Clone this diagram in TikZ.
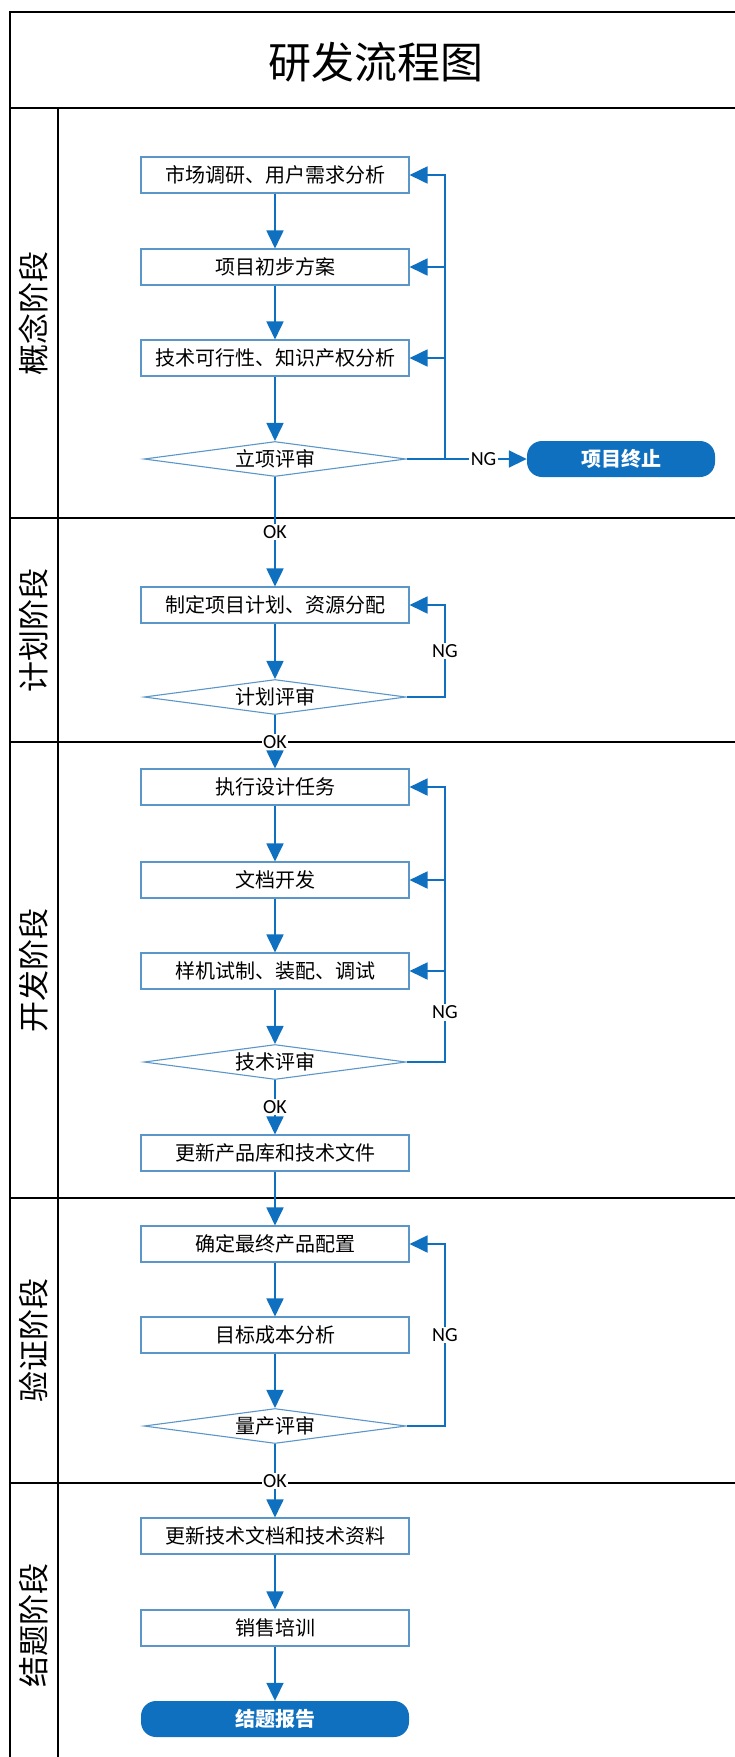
\documentclass[tikz,border=0pt]{standalone}
\usepackage{fontspec}
\setmainfont{Carlito}
\newfontfamily\cjk{Noto Sans CJK SC}
\usetikzlibrary{shapes.geometric,arrows.meta,scopes}
\definecolor{flowblue}{RGB}{16,112,192}
\definecolor{boxline}{RGB}{90,150,200}
\tikzset{
  stage/.style={draw=boxline,line width=1.1pt,minimum width=268pt,minimum height=36pt,
                inner sep=0pt,font=\cjk\fontsize{20}{24}\selectfont},
  review/.style={diamond,aspect=7.5,draw=boxline,line width=1.1pt,minimum width=262pt,
                 minimum height=35pt,inner sep=0pt,font=\cjk\fontsize{20}{24}\selectfont},
  halt/.style={fill=flowblue,rounded corners=15pt,minimum height=36pt,inner sep=0pt,
               text=white,font=\cjk\bfseries\fontsize{20}{24}\selectfont},
  lane/.style={rotate=90,font=\cjk\fontsize{31}{34}\selectfont},
  tag/.style={fill=white,text=black,inner sep=1.5pt,font=\fontsize{20}{22}\selectfont},
  flow/.style={color=flowblue,line width=1.8pt,-{Triangle[length=18pt,width=17pt]}},
  laneline/.style={line width=1.6pt}
}
\begin{document}
\begin{tikzpicture}[x=1pt,y=-1pt]
\useasboundingbox (0,0) rectangle (734,1757);

{[laneline]
 \draw (10,12) rectangle (742,1767);
 \draw (10,108) -- (742,108);
 \draw (58,108) -- (58,1767);
 \foreach \y in {518,742,1198,1483}
   \draw (10,\y) -- (742,\y);
}

\path node (title) at (376,62) {\cjk\fontsize{43}{48}\selectfont 研发流程图}
      node[lane] (l1) at (34,313)  {概念阶段}
      node[lane] (l2) at (34,630)  {计划阶段}
      node[lane] (l3) at (34,970)  {开发阶段}
      node[lane] (l4) at (34,1340) {验证阶段}
      node[lane] (l5) at (34,1625) {结题阶段}
      node[stage]  (b1)  at (275,175)  {市场调研、用户需求分析}
      node[stage]  (b2)  at (275,267)  {项目初步方案}
      node[stage]  (b3)  at (275,358)  {技术可行性、知识产权分析}
      node[review] (d1)  at (275,459)  {立项评审}
      node[halt,minimum width=188pt] (t1) at (621,459) {项目终止}
      node[stage]  (b4)  at (275,605)  {制定项目计划、资源分配}
      node[review] (d2)  at (275,697)  {计划评审}
      node[stage]  (b5)  at (275,787)  {执行设计任务}
      node[stage]  (b6)  at (275,880)  {文档开发}
      node[stage]  (b7)  at (275,971)  {样机试制、装配、调试}
      node[review] (d3)  at (275,1062) {技术评审}
      node[stage]  (b8)  at (275,1153) {更新产品库和技术文件}
      node[stage]  (b9)  at (275,1244) {确定最终产品配置}
      node[stage]  (b10) at (275,1335) {目标成本分析}
      node[review] (d4)  at (275,1426) {量产评审}
      node[stage]  (b11) at (275,1536) {更新技术文档和技术资料}
      node[stage]  (b12) at (275,1628) {销售培训}
      node[halt,minimum width=268pt] (t2) at (275,1719) {结题报告};

\coordinate (ng1) at (445,175);
\coordinate (ng2) at (445,605);
\coordinate (ng3) at (445,787);
\coordinate (ng4) at (445,1244);

{[flow]
 \draw (b1) -- (b2);
 \draw (b2) -- (b3);
 \draw (b3) -- (d1);
 \draw (d1) -- node[tag]{OK} (b4);
 \draw (b4) -- (d2);
 \draw (d2) -- node[tag]{OK} (b5);
 \draw (b5) -- (b6);
 \draw (b6) -- (b7);
 \draw (b7) -- (d3);
 \draw (d3) -- node[tag]{OK} (b8);
 \draw (b8) -- (b9);
 \draw (b9) -- (b10);
 \draw (b10) -- (d4);
 \draw (d4) -- node[tag]{OK} (b11);
 \draw (b11) -- (b12);
 \draw (b12) -- (t2);

 \draw (d1.east) -| (ng1) -- (b1.east);
 \draw (ng1 |- b2.east) -- (b2.east);
 \draw (ng1 |- b3.east) -- (b3.east);
 \draw (d1.east) -- node[tag,pos=0.64]{NG} (t1);

 \draw (d2.east) -| node[tag,pos=0.75]{NG} (ng2) -- (b4.east);

 \draw (d3.east) -| node[tag,pos=0.59]{NG} (ng3) -- (b5.east);
 \draw (ng3 |- b6.east) -- (b6.east);
 \draw (ng3 |- b7.east) -- (b7.east);

 \draw (d4.east) -| node[tag,pos=0.75]{NG} (ng4) -- (b9.east);
}
\end{tikzpicture}
\end{document}
